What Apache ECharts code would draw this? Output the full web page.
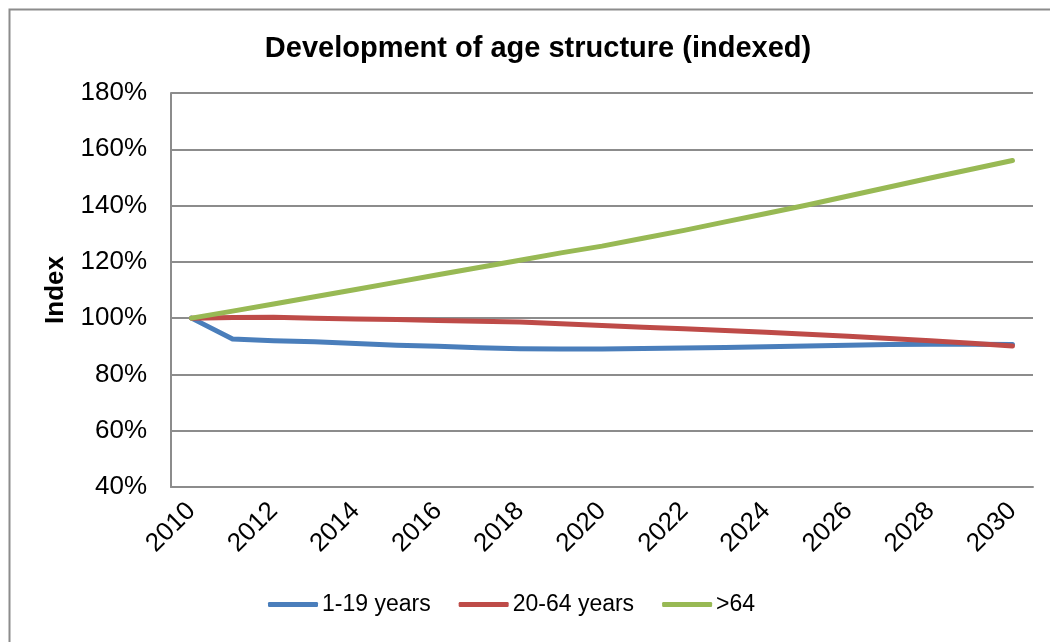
<!DOCTYPE html>
<html>
<head>
<meta charset="utf-8">
<script src="https://cdn.jsdelivr.net/npm/echarts@6/dist/echarts.min.js"></script>
<style>
  html, body { margin: 0; padding: 0; background: #fff; }
  #chart { width: 1050px; height: 642px; }
</style>
</head>
<body>
<div id="chart"></div>
<script>
// Years on the horizontal axis
const years = ['2010','2011','2012','2013','2014','2015','2016','2017','2018','2019','2020',
               '2021','2022','2023','2024','2025','2026','2027','2028','2029','2030'];

// Index values in percent (2010 = 100)
const youth = [100, 92.6, 92.0, 91.6, 91.0, 90.4, 90.0, 89.5, 89.1, 89.0, 89.0,
               89.2, 89.4, 89.6, 89.8, 90.1, 90.4, 90.6, 90.7, 90.7, 90.6];
const workingAge = [100, 100.2, 100.3, 100.0, 99.7, 99.5, 99.2, 98.9, 98.6, 98.0, 97.4,
                    96.8, 96.2, 95.6, 95.0, 94.3, 93.6, 92.8, 92.0, 91.1, 90.1];
const seniors = [100, 102.5, 105.0, 107.6, 110.2, 112.8, 115.4, 118.0, 120.6, 123.2, 125.6,
                 128.4, 131.2, 134.2, 137.2, 140.2, 143.4, 146.6, 149.8, 152.9, 156.0];

const seriesNames = ['1-19 years', '20-64 years', '>64'];
const seriesColors = ['#4A7EBB', '#BE4B48', '#98B954'];

const FONT = '"Liberation Sans", Arial, sans-serif';
const GRAY = '#8c8c8c';

const chart = echarts.init(document.getElementById('chart'), null, { renderer: 'canvas' });

function lineSeries(name, data, color) {
  return {
    name: name,
    type: 'line',
    data: data,
    symbol: 'none',
    smooth: false,
    lineStyle: { color: color, width: 5, cap: 'round', join: 'round' },
    itemStyle: { color: color }
  };
}

chart.setOption({
  animation: false,
  backgroundColor: '#fff',
  textStyle: { fontFamily: FONT },
  graphic: [{
    type: 'rect',
    left: 7, top: 7,
    shape: { width: 1100, height: 700 },
    style: { fill: 'none', stroke: GRAY, lineWidth: 2 },
    silent: true
  }],
  title: {
    text: 'Development of age structure (indexed)',
    left: 533, top: 29, textAlign: 'center',
    textStyle: { fontFamily: FONT, fontSize: 29, fontWeight: 'bold', color: '#000' }
  },
  legend: {
    left: 263, top: 588,
    itemWidth: 50, itemHeight: 5, itemGap: 28,
    icon: 'roundRect',
    textStyle: { fontFamily: FONT, fontSize: 23, color: '#000', padding: [0, 0, 0, -1] },
    data: seriesNames
  },
  grid: { left: 171, right: 17, top: 93, bottom: 155, containLabel: false },
  xAxis: {
    type: 'category',
    data: years,
    boundaryGap: true,
    axisLine: { lineStyle: { color: GRAY, width: 2 } },
    axisTick: { show: false },
    axisLabel: {
      interval: 1, rotate: 45, margin: 20,
      fontFamily: FONT, fontSize: 26, color: '#000'
    },
    splitLine: { show: false }
  },
  yAxis: {
    type: 'value',
    min: 40, max: 180, interval: 20,
    name: 'Index',
    nameLocation: 'middle',
    nameGap: 102,
    nameRotate: 90,
    nameTextStyle: { fontFamily: FONT, fontSize: 26, fontWeight: 'bold', color: '#000' },
    axisLine: { show: true, lineStyle: { color: GRAY, width: 2 } },
    axisTick: { show: false },
    axisLabel: {
      formatter: '{value}%', margin: 24, padding: [5, 0, 0, 0],
      fontFamily: FONT, fontSize: 26, color: '#000'
    },
    splitLine: { lineStyle: { color: GRAY, width: 2 } }
  },
  series: [
    lineSeries(seriesNames[0], youth, seriesColors[0]),
    lineSeries(seriesNames[1], workingAge, seriesColors[1]),
    lineSeries(seriesNames[2], seniors, seriesColors[2])
  ]
});
</script>
</body>
</html>
